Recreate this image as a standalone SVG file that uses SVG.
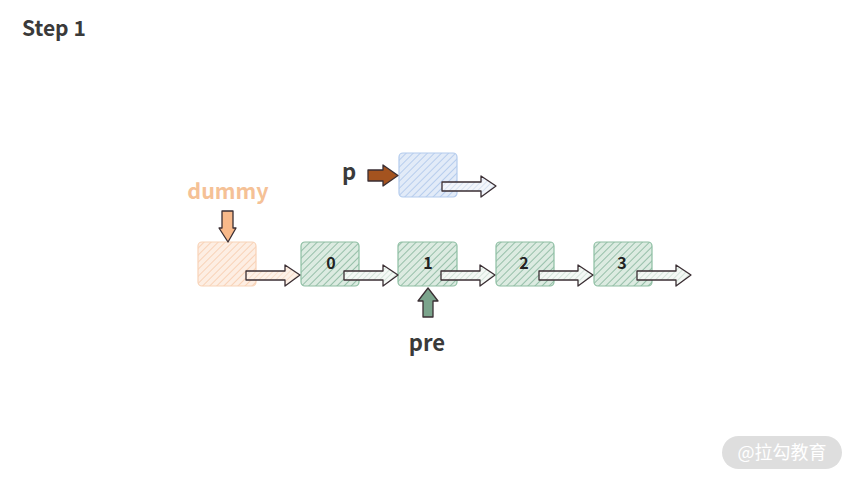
<svg xmlns="http://www.w3.org/2000/svg" width="853" height="480" viewBox="0 0 853 480">
<defs>
<pattern id="hg" width="5" height="5" patternUnits="userSpaceOnUse" patternTransform="rotate(45)">
<rect width="5" height="5" fill="#dcebe1"/><line x1="0" y1="0" x2="0" y2="5" stroke="#7fb196" stroke-width="1.5"/></pattern>
<pattern id="ho" width="5" height="5" patternUnits="userSpaceOnUse" patternTransform="rotate(45)">
<rect width="5" height="5" fill="#fdeee3"/><line x1="0" y1="0" x2="0" y2="5" stroke="#f7c9a8" stroke-width="1.5"/></pattern>
<pattern id="hb" width="5" height="5" patternUnits="userSpaceOnUse" patternTransform="rotate(45)">
<rect width="5" height="5" fill="#e2ebf8"/><line x1="0" y1="0" x2="0" y2="5" stroke="#a9c4ea" stroke-width="1.5"/></pattern>
<pattern id="ha" width="4" height="4" patternUnits="userSpaceOnUse" patternTransform="rotate(45)">
<rect width="4" height="4" fill="#f4f8f5"/><line x1="0" y1="0" x2="0" y2="4" stroke="#b7d3c2" stroke-width="1"/></pattern>
<pattern id="hap" width="4" height="4" patternUnits="userSpaceOnUse" patternTransform="rotate(45)">
<rect width="4" height="4" fill="#fdf1e8"/><line x1="0" y1="0" x2="0" y2="4" stroke="#f4cdb1" stroke-width="1"/></pattern>
<pattern id="hab" width="4" height="4" patternUnits="userSpaceOnUse" patternTransform="rotate(45)">
<rect width="4" height="4" fill="#f3f6fb"/><line x1="0" y1="0" x2="0" y2="4" stroke="#bccfe9" stroke-width="1"/></pattern>
<path id="arr" d="M0,-4 L39,-4 L39,-10 L54,0 L39,11 L39,5 L0,5 Z"/>
</defs>
<style>
.box{stroke-width:1.2}
.g{fill:url(#hg);stroke:#8dbea2}
.o{fill:url(#ho);stroke:#f8d3b7}
.b{fill:url(#hb);stroke:#b3cbed}
.ar{stroke:#3a2e33;stroke-width:1.3;stroke-linejoin:round}
.t{font-family:"Noto Sans CJK SC","Noto Sans","Liberation Sans",sans-serif;font-weight:bold;fill:#3a3a3a}
.n{font-size:16px;text-anchor:middle;fill:#222}
</style>
<rect width="853" height="480" fill="#fff"/>
<text class="t" x="22" y="36" font-size="21">Step 1</text>

<g id="node-p">
<rect class="box b" x="399" y="153" width="58" height="44" rx="4"/>
<text class="t" x="349" y="180" font-size="22" text-anchor="middle">p</text>
</g>
<g id="node-dummy">
<rect class="box o" x="198" y="242" width="58" height="44" rx="4"/>
<text class="t" x="228" y="199" font-size="21.5" text-anchor="middle" style="fill:#f5c196">dummy</text>
</g>
<g id="node-0">
<rect class="box g" x="301" y="242" width="58" height="44" rx="4"/>
<text class="t n" x="331" y="269">0</text>
</g>
<g id="node-1">
<rect class="box g" x="398" y="242" width="59" height="44" rx="4"/>
<text class="t n" x="428" y="269">1</text>
</g>
<g id="node-2">
<rect class="box g" x="496" y="242" width="58" height="44" rx="4"/>
<text class="t n" x="524" y="269">2</text>
</g>
<g id="node-3">
<rect class="box g" x="594" y="242" width="58" height="44" rx="4"/>
<text class="t n" x="622" y="269">3</text>
</g>
<g id="label-pre">
<text class="t" x="427" y="351" font-size="22" text-anchor="middle">pre</text>
</g>

<g id="connectors">
<use href="#arr" class="ar" fill="url(#hap)" transform="translate(246,275)"/>
<use href="#arr" class="ar" fill="url(#ha)" transform="translate(344,275)"/>
<use href="#arr" class="ar" fill="url(#ha)" transform="translate(441,275)"/>
<use href="#arr" class="ar" fill="url(#ha)" transform="translate(539,275)"/>
<use href="#arr" class="ar" fill="url(#ha)" transform="translate(637,275)"/>
<use href="#arr" class="ar" fill="url(#hab)" transform="translate(442,186)"/>
<path class="ar" fill="#a4531f" d="M368,170 L383,170 L383,165 L398,175.5 L383,186 L383,181 L368,181 Z"/>
<path class="ar" fill="#f8b98a" d="M222,211 L233,211 L233,228 L236,228 L228,242 L219,228 L222,228 Z"/>
<path class="ar" fill="#7ba48c" d="M423,317 L433,317 L433,301 L438,301 L428,288 L418,301 L423,301 Z"/>
</g>

<g id="watermark">
<rect x="722" y="436" width="120" height="33" rx="16.5" fill="#dedede"/>
<text x="782" y="459" font-size="18" text-anchor="middle" fill="#fff" font-family="'Noto Sans CJK SC',sans-serif">@拉勾教育</text>
</g>
</svg>
